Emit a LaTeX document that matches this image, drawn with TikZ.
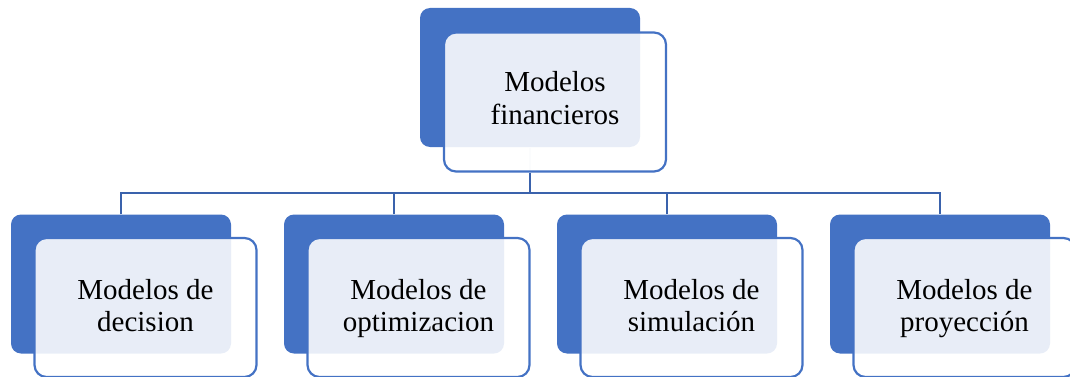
\documentclass[tikz,border=0pt]{standalone}
\usepackage{fontspec}
\setmainfont{Liberation Serif}
\definecolor{accent}{HTML}{4472C4}
\definecolor{linkc}{HTML}{3A62AC}
\tikzset{
  backbox/.style={fill=accent, draw=none, rounded corners=10pt, minimum width=220pt, minimum height=139pt, inner sep=0pt},
  frontbox/.style={fill=white, fill opacity=0.88, text opacity=1, draw=accent, line width=2.2pt, rounded corners=12pt, minimum width=222pt, minimum height=139pt, inner sep=0pt, align=center, font=\fontsize{29}{32}\selectfont},
  link/.style={draw=linkc, line width=2.8pt},
  hidlink/.style={draw=accent!15, line width=2.8pt}
}
\begin{document}
\begin{tikzpicture}[x=1pt,y=-1pt]
\useasboundingbox (0,0) rectangle (1070,377);
% top
\node[backbox] (b0) at (530,77.5) {};
\coordinate (j0) at (530,193);
\draw[hidlink] (b0.south) -- (530,172);
\node[frontbox] (f0) at (555,102) {\raisebox{-3pt}{\strut Modelos}\\\strut financieros};
\draw[link] (f0.south -| j0) -- (j0);
% bottom boxes
\foreach \i/\t in {0/{\strut Modelos de\\\strut decision},1/{\strut Modelos de\\\strut optimizacion},2/{\strut Modelos de\\\strut simulación},3/{\strut Modelos de\\\strut proyección}}{
  \node[backbox] (b\i1) at ({121+273*\i},284) {};
  \node[frontbox] (f\i1) at ({145.5+273*\i},307.5) {};
  \node[font=\fontsize{29}{32}\selectfont, align=center, inner sep=0pt] (t\i1) at ([yshift=-2pt]f\i1.center) {\t};
}
\coordinate (jl) at (121,193);
\coordinate (jr) at (940,193);
\draw[link] (b01.north) -- (jl) -- (jr) -- (b31.north -| jr);
\draw[link] (b11.north) -- (b11.north |- jl);
\draw[link] (b21.north) -- (b21.north |- jl);
\end{tikzpicture}
\end{document}
